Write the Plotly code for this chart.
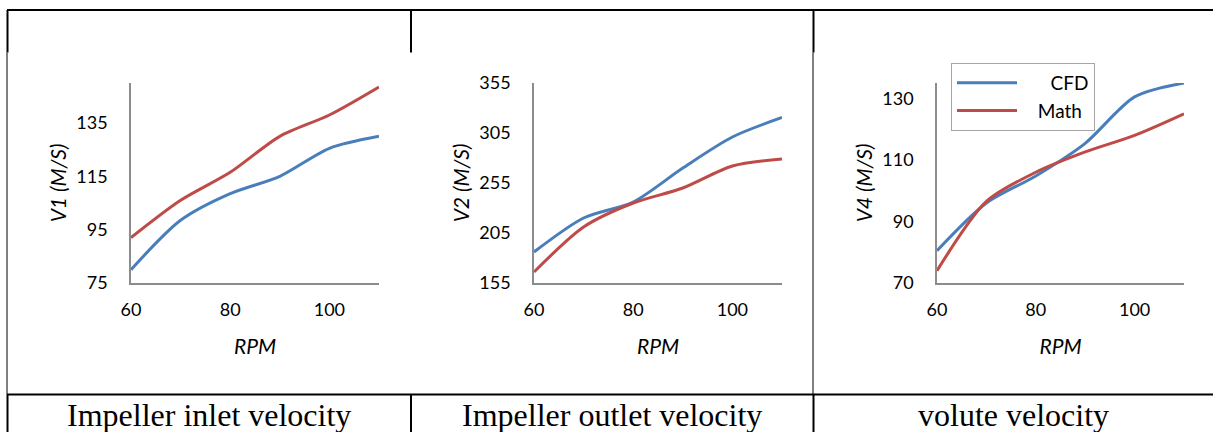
import plotly.graph_objects as go

# RPM values shared by all three panels
rpm = [60, 70, 80, 90, 100, 110]

# Impeller inlet velocity V1 (m/s)
v1_cfd = [80, 98.5, 108.5, 115, 125.5, 130]
v1_math = [92, 106, 116.5, 130, 138, 148.5]

# Impeller outlet velocity V2 (m/s)
v2_cfd = [186, 220, 236, 270, 301, 320.5]
v2_math = [166, 211, 235, 250, 272, 279]

# Volute velocity V4 (m/s)
v4_cfd = [80.5, 96, 104.8, 115.4, 130.5, 135]
v4_math = [74, 96.5, 106, 112.6, 118, 125]

captions = ["Impeller inlet velocity", "Impeller outlet velocity", "volute velocity"]
y_titles = ["V1 (M/S)", "V2 (M/S)", "V4 (M/S)"]
y_ranges = [[75, 150], [155, 355], [70, 135]]
y_ticks = [[75, 95, 115, 135], [155, 205, 255, 305, 355], [70, 90, 110, 130]]
x_ticks = [60, 80, 100]

W, H = 1213, 432
BLUE = "#4a7ebb"
RED = "#be4b48"


def px(x):
    return x / W


def py(y):
    return 1 - y / H


# plot-area pixel boxes (left, right) for each panel, shared top/bottom
x_dom = [(131, 379), (534, 782), (937, 1184)]
y_top, y_bot = 83, 283

fig = go.Figure()

series = [(v1_cfd, v1_math), (v2_cfd, v2_math), (v4_cfd, v4_math)]
for i, (cfd, math) in enumerate(series):
    xa = "x" if i == 0 else f"x{i + 1}"
    ya = "y" if i == 0 else f"y{i + 1}"
    last = i == 2
    # legend labels padded so that CFD lines up on the right like the original
    fig.add_trace(go.Scatter(
        x=rpm, y=cfd, mode="lines", name="\u2002\u2002\u2002CFD", xaxis=xa, yaxis=ya,
        line=dict(color=BLUE, width=3, shape="spline", smoothing=0.8),
        showlegend=last, legendgroup="cfd",
    ))
    fig.add_trace(go.Scatter(
        x=rpm, y=math, mode="lines", name="\u2002\u2004Math", xaxis=xa, yaxis=ya,
        line=dict(color=RED, width=3, shape="spline", smoothing=0.8),
        showlegend=last, legendgroup="math",
    ))

tick_font = dict(family="Lato", size=18, color="black")
title_font = dict(family="Lato", size=21, color="black", style="italic")

layout = dict(
    width=W, height=H,
    margin=dict(l=0, r=0, t=0, b=0),
    paper_bgcolor="white", plot_bgcolor="white",
    legend=dict(
        x=px(951), y=py(63), xanchor="left", yanchor="top",
        bordercolor="#a6a6a6", borderwidth=1,
        font=dict(family="Lato", size=19, color="black"),
        tracegroupgap=0, traceorder="grouped",
        itemwidth=60, entrywidth=70, entrywidthmode="pixels",
        bgcolor="white",
    ),
)

for i in range(3):
    sx = "" if i == 0 else str(i + 1)
    l, r = x_dom[i]
    layout[f"xaxis{sx}"] = dict(
        domain=[px(l), px(r)], range=[60, 110], anchor=f"y{sx}",
        tickvals=x_ticks, showgrid=False, zeroline=False,
        showline=True, linecolor="#8c8c8c", linewidth=1.5,
        tickfont=tick_font, ticklabelstandoff=10, automargin=False,
        title=dict(text="RPM", font=title_font, standoff=20),
    )
    layout[f"yaxis{sx}"] = dict(
        domain=[py(y_bot), py(y_top)], range=y_ranges[i], anchor=f"x{sx}",
        tickvals=y_ticks[i], showgrid=False, zeroline=False,
        showline=True, linecolor="#8c8c8c", linewidth=1.5,
        tickfont=tick_font, ticklabelstandoff=18, automargin=False,
        title=dict(text=y_titles[i], font=title_font, standoff=4),
    )

fig.update_layout(**layout)

# table borders around the figure panels
shapes = []


def seg(x0, y0, x1, y1, w=2):
    shapes.append(dict(type="line", xref="paper", yref="paper",
                       x0=px(x0), y0=py(y0), x1=px(x1), y1=py(y1),
                       line=dict(color="black", width=w)))


seg(7, 10, W, 10)
seg(7, 394.5, W, 394.5)
for xv in (7.5, 411, 813.5):
    seg(xv, 10, xv, 52.5)
    seg(xv, 394.5, xv, H)
seg(7, 52.5, 7, 394.5, 1)
seg(813, 52.5, 813, 394.5, 1)
fig.update_layout(shapes=shapes)

# captions in the bottom row
for cx, text in zip((209, 612, 1013), captions):
    fig.add_annotation(
        x=px(cx), y=py(415), xref="paper", yref="paper",
        text=text, showarrow=False, xanchor="center", yanchor="middle",
        font=dict(family="Liberation Serif", size=32, color="black"),
    )

fig.write_html("out.html", config={"displayModeBar": False},
               post_script="document.body.style.margin='0px';")
